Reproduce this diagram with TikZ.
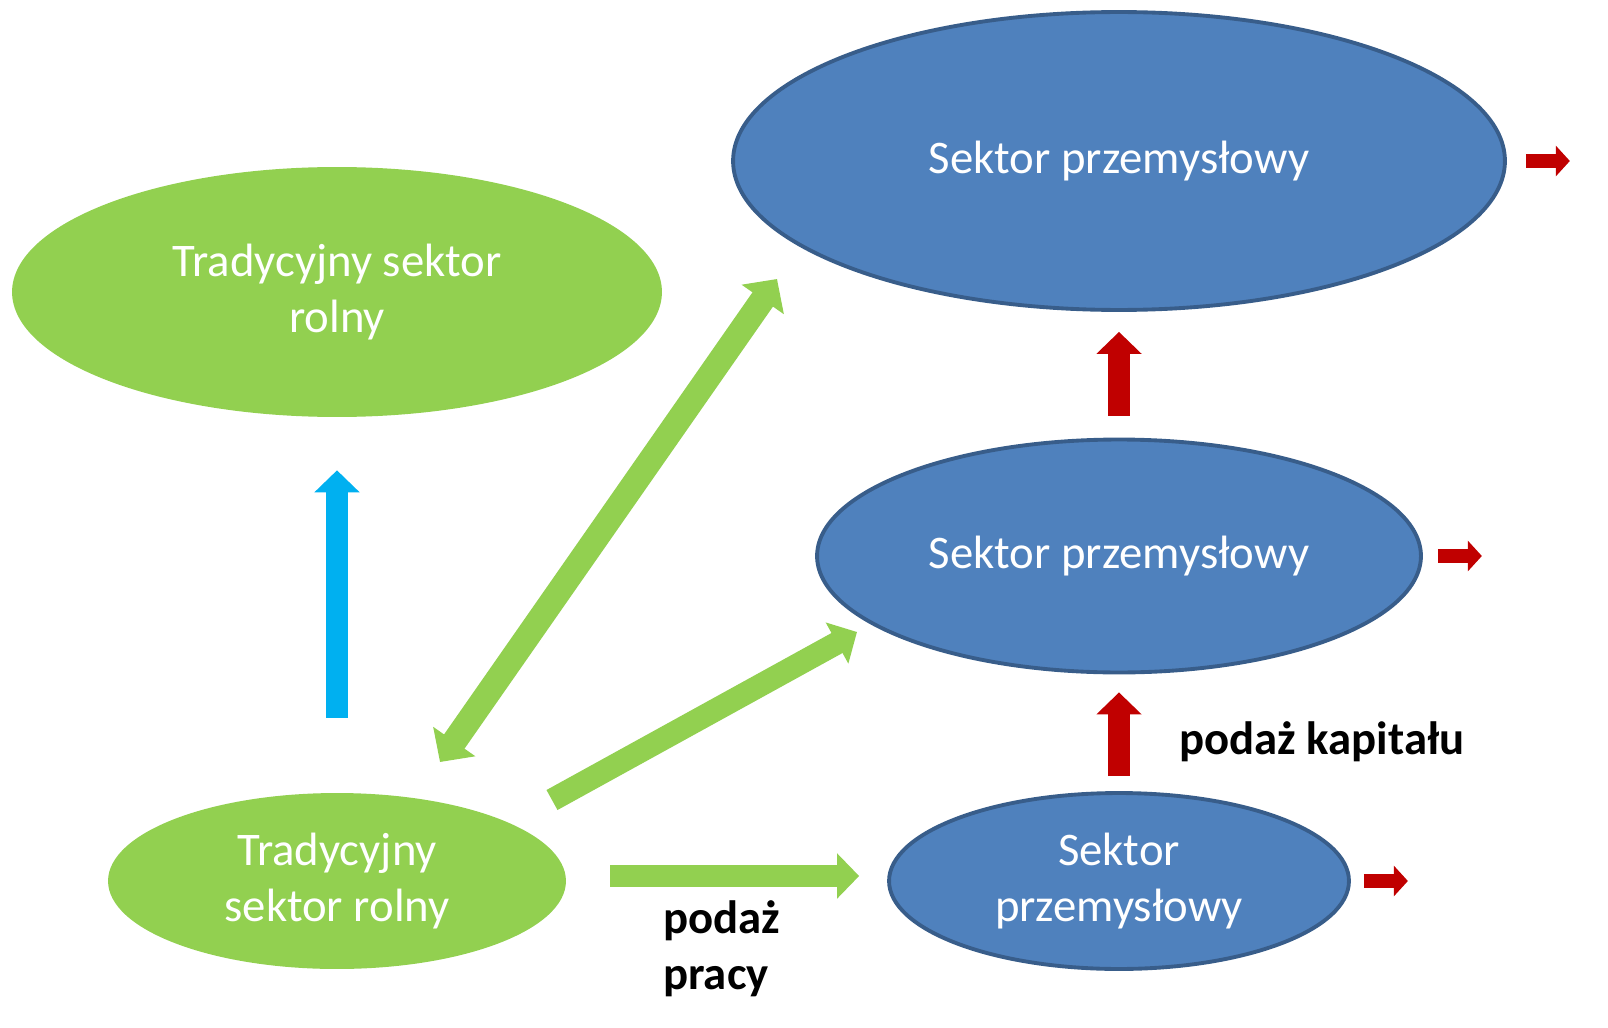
\documentclass[tikz,border=0pt]{standalone}
\usepackage{fontspec}
\setmainfont{Carlito}
\usetikzlibrary{positioning, shapes, arrows.meta, calc}

\definecolor{zielony}{HTML}{92D050}
\definecolor{niebieski}{HTML}{4F81BD}
\definecolor{obrys}{HTML}{385D8A}
\definecolor{czerwony}{HTML}{C00000}
\definecolor{blekit}{HTML}{00B0F0}

\tikzset{
  sektor/.style={ellipse, inner sep=0pt, align=center, text=white, font=\fontsize{26.6}{32}\selectfont},
  rolny/.style={sektor, fill=zielony},
  przem/.style={sektor, fill=niebieski, draw=obrys, line width=2.2pt},
  etykieta/.style={anchor=west, align=left, font=\fontsize{26.6}{32}\selectfont\bfseries},
  gruba/.style={line width=12.5pt, -{Triangle[width=25pt,length=12.5pt]}},
  mala/.style={czerwony, line width=8pt, -{Triangle[width=17pt,length=8pt]}}
}

\begin{document}
\begin{tikzpicture}[x=0.02cm, y=-0.02cm]
  \useasboundingbox (0,0) rectangle (1608,1027);

  % sektory
  \node[rolny, minimum width=13cm, minimum height=5cm] (rolnyA) at (337,292) {Tradycyjny sektor\\rolny};
  \node[rolny, minimum width=9.16cm, minimum height=3.52cm] (rolnyB) at (337,881) {Tradycyjny\\sektor rolny};
  \node[przem, minimum width=15.44cm, minimum height=5.96cm] (przemA) at (1119,161) {Sektor przemysłowy};
  \node[przem, minimum width=12.08cm, minimum height=4.66cm] (przemB) at (1119,556) {Sektor przemysłowy};
  \node[przem, minimum width=9.2cm, minimum height=3.52cm] (przemC) at (1119,881) {Sektor\\przemysłowy};

  % strzalki
  \draw[gruba, blekit, line width=12pt, shorten <=1.5cm, shorten >=1.06cm] (rolnyB.north) -- (rolnyA.south);
  \draw[gruba, czerwony, shorten <=0.44cm, shorten >=0.4cm] (przemB.north) -- (przemA.south);
  \draw[gruba, czerwony, shorten <=0.3cm, shorten >=0.36cm] (przemC.north) -- (przemB.south);
  \draw[gruba, zielony, line width=12pt, shorten <=0.88cm, shorten >=0.56cm] ([yshift=0.1cm]rolnyB.east) -- ([yshift=0.1cm]przemC.west);

  \coordinate (dolA) at (440,762);
  \coordinate (goraA) at (777,279);
  \coordinate (dolB) at (552,800);
  \coordinate (goraB) at (857,632);
  \draw[zielony, line width=14.2pt, {Triangle[width=28.5pt,length=14.2pt]}-{Triangle[width=28.5pt,length=14.2pt]}] (dolA) -- (goraA);
  \draw[gruba, zielony, line width=13pt, -{Triangle[width=26pt,length=13pt]}] (dolB) -- (goraB);

  \foreach \n/\g in {przemA/19, przemB/15, przemC/13}
    \draw[mala] ([xshift=\g*0.02cm]\n.east) -- ++(44,0);

  % opisy
  \node[etykieta] (praca) at (657,949) {podaż\\pracy};
  \node[etykieta] (kapital) at (1173,742) {podaż kapitału};
\end{tikzpicture}
\end{document}
